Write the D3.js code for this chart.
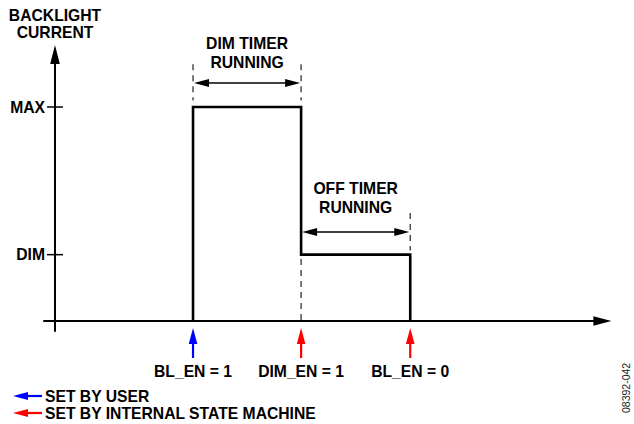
<!DOCTYPE html>
<html>
<head>
<meta charset="utf-8">
<script src="https://cdn.jsdelivr.net/npm/d3@7"></script>
<style>
  body { margin: 0; background: #fff; }
  svg { display: block; }
  text { font-family: "Liberation Sans", Arial, sans-serif; font-weight: bold; font-size: 15.7px; fill: #000; }
</style>
</head>
<body>
<svg id="chart" width="634" height="424"></svg>
<script>
// levels on the current axis
const levelNames = ['MAX', 'DIM'];
const levelValues = [1, 0.31];

// events along the time axis
const eventLabels = ['BL_EN = 1', 'DIM_EN = 1', 'BL_EN = 0'];
const eventTimes = [1.29, 2.3, 3.32];
const eventSource = ['user', 'internal', 'internal'];

// backlight current waveform
const waveTimes = [1.29, 1.29, 2.3, 2.3, 3.32, 3.32];
const waveValues = [0, 1, 1, 0.31, 0.31, 0];

// timers
const timerLabels = [['DIM TIMER', 'RUNNING'], ['OFF TIMER', 'RUNNING']];
const timerStart = [1.29, 2.3];
const timerEnd = [2.3, 3.32];

const legendLabels = ['SET BY USER', 'SET BY INTERNAL STATE MACHINE'];
const sourceColor = {user: '#0000ff', internal: '#ff0000'};

const svg = d3.select('#chart');

const x = d3.scaleLinear().domain([0, 5.2]).range([55, 611.4]);
const y = d3.scaleLinear().domain([0, 1]).range([321, 107]);

function arrowHead(tipX, tipY, dir, len, half, color) {
  let pts;
  if (dir === 'up') pts = [[tipX, tipY], [tipX - half, tipY + len], [tipX + half, tipY + len]];
  else if (dir === 'right') pts = [[tipX, tipY], [tipX - len, tipY - half], [tipX - len, tipY + half]];
  else pts = [[tipX, tipY], [tipX + len, tipY - half], [tipX + len, tipY + half]];
  svg.append('path').attr('d', d3.line()(pts) + 'Z').attr('fill', color);
}

// axes
svg.append('line')
  .attr('x1', x(0)).attr('x2', x(0))
  .attr('y1', y(-0.05)).attr('y2', y(1.29) + 16)
  .attr('stroke', '#000').attr('stroke-width', 2);
arrowHead(x(0), y(1.29), 'up', 19, 4.8, '#000');

svg.append('line')
  .attr('x1', x(-0.11)).attr('x2', x(5.2) - 16)
  .attr('y1', y(0)).attr('y2', y(0))
  .attr('stroke', '#000').attr('stroke-width', 2);
arrowHead(x(5.2), y(0), 'right', 18, 4.8, '#000');

svg.append('text').attr('x', x(0)).attr('y', 21).attr('text-anchor', 'middle').text('BACKLIGHT');
svg.append('text').attr('x', x(0)).attr('y', 38).attr('text-anchor', 'middle').text('CURRENT');

// level ticks
levelNames.forEach((name, i) => {
  svg.append('line')
    .attr('x1', x(0) - 8).attr('x2', x(0) + 8)
    .attr('y1', y(levelValues[i])).attr('y2', y(levelValues[i]))
    .attr('stroke', '#000').attr('stroke-width', 1.5);
  svg.append('text')
    .attr('x', x(0) - 10).attr('y', y(levelValues[i]) + 5.5)
    .attr('text-anchor', 'end').text(name);
});

// dashed guide lines
const dash = '6,5';
function guide(t, v1, v2) {
  svg.append('line')
    .attr('x1', x(t)).attr('x2', x(t))
    .attr('y1', y(v1)).attr('y2', y(v2))
    .attr('stroke', '#333').attr('stroke-width', 1.3)
    .attr('stroke-dasharray', dash);
}
guide(timerStart[0], 1.2, 1.03);
guide(timerEnd[0], 1.2, 1.03);
guide(timerEnd[0], 0.29, 0);
guide(timerEnd[1], 0.505, 0.33);

// waveform
svg.append('path')
  .datum(waveTimes.map((t, i) => [t, waveValues[i]]))
  .attr('d', d3.line().x(d => x(d[0])).y(d => y(d[1])))
  .attr('fill', 'none').attr('stroke', '#000').attr('stroke-width', 2.6)
  .attr('stroke-linejoin', 'miter');

// timer double arrows
const timerArrowY = [83, 232];
const timerTextY = [[49, 68], [194, 213]];
timerLabels.forEach((lbl, i) => {
  const x1 = x(timerStart[i]), x2 = x(timerEnd[i]), yy = timerArrowY[i];
  svg.append('line')
    .attr('x1', x1 + 12).attr('x2', x2 - 12)
    .attr('y1', yy).attr('y2', yy)
    .attr('stroke', '#000').attr('stroke-width', 1.5);
  arrowHead(x1 + 1, yy, 'left', 15, 4, '#000');
  arrowHead(x2 - 1, yy, 'right', 15, 4, '#000');
  lbl.forEach((l, j) => {
    svg.append('text')
      .attr('x', (x1 + x2) / 2).attr('y', timerTextY[i][j])
      .attr('text-anchor', 'middle').text(l);
  });
});

// event arrows
eventTimes.forEach((t, i) => {
  const c = sourceColor[eventSource[i]];
  svg.append('line')
    .attr('x1', x(t)).attr('x2', x(t))
    .attr('y1', 358).attr('y2', 342)
    .attr('stroke', c).attr('stroke-width', 2.2);
  arrowHead(x(t), 328, 'up', 16, 4.3, c);
  svg.append('text')
    .attr('x', x(t)).attr('y', 377)
    .attr('text-anchor', 'middle').text(eventLabels[i]);
});

// legend
const legendColors = [sourceColor.user, sourceColor.internal];
legendLabels.forEach((l, i) => {
  const ly = 396 + i * 17;
  svg.append('line')
    .attr('x1', 27).attr('x2', 42)
    .attr('y1', ly).attr('y2', ly)
    .attr('stroke', legendColors[i]).attr('stroke-width', 2.2);
  arrowHead(13, ly, 'left', 15, 4, legendColors[i]);
  svg.append('text')
    .attr('x', 45).attr('y', ly + 5.5).text(l);
});

// figure id
svg.append('text')
  .attr('transform', 'translate(630,413) rotate(-90)')
  .style('font-weight', 'normal').style('font-size', '10.5px').style('fill', '#222')
  .text('08392-042');
</script>
</body>
</html>
